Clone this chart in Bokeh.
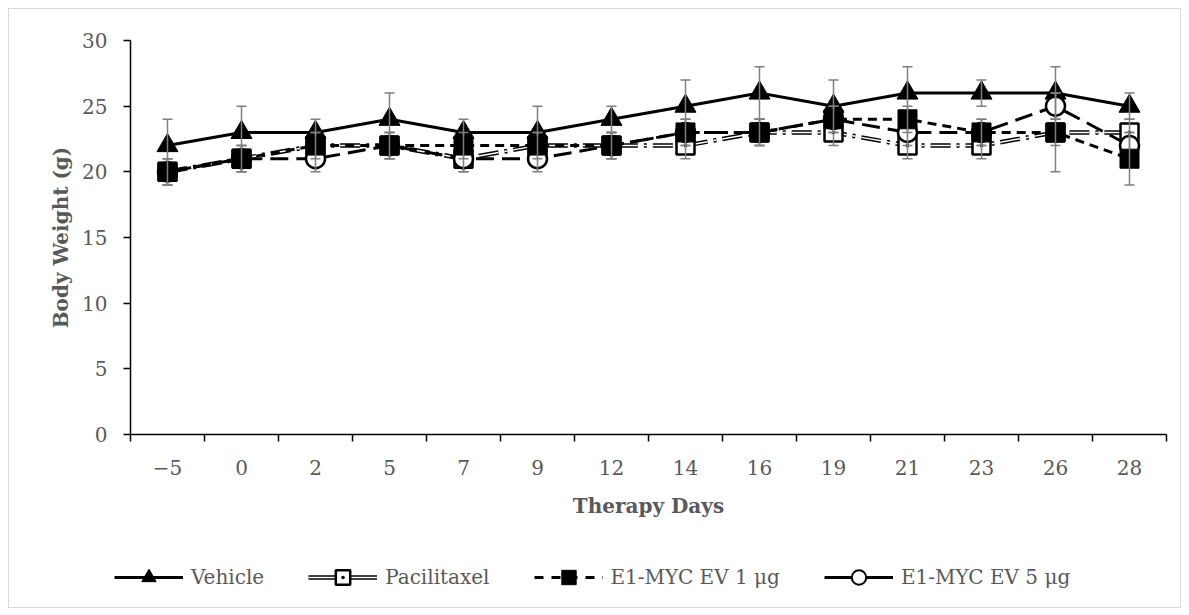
from bokeh.plotting import figure
from bokeh.models import Range1d, FixedTicker, Legend, LegendItem
from bokeh.layouts import column
from bokeh.core.properties import value
from bokeh.embed import file_html
from bokeh.resources import INLINE

# ---------------- data ----------------
days = ["\u22125", "0", "2", "5", "7", "9", "12", "14", "16", "19", "21", "23", "26", "28"]
vehicle = [22, 23, 23, 24, 23, 23, 24, 25, 26, 25, 26, 26, 26, 25]
vehicle_err = [2, 2, 1, 2, 1, 2, 1, 2, 2, 2, 2, 1, 2, 1]
paclitaxel = [20, 21, 22, 22, 21, 22, 22, 22, 23, 23, 22, 22, 23, 23]
paclitaxel_err = [1, 1, 1, 1, 1, 1, 1, 1, 1, 1, 1, 1, 1, 1]
ev1 = [20, 21, 22, 22, 22, 22, 22, 23, 23, 24, 24, 23, 23, 21]
ev1_err = [1, 1, 1, 1, 1, 1, 1, 1, 1, 1, 1, 1, 3, 2]
ev5 = [20, 21, 21, 22, 21, 21, 22, 23, 23, 24, 23, 23, 25, 22]
ev5_err = [1, 1, 1, 1, 1, 1, 1, 1, 1, 1, 1, 1, 1, 1]
y_ticks = [0, 5, 10, 15, 20, 25, 30]
labels = ["Vehicle", "Pacilitaxel", "E1-MYC EV 1 \u03bcg", "E1-MYC EV 5 \u03bcg"]

FONT = "DejaVu Serif"
FS = "20px"
TXT = "#595959"
GREY = "#7f7f7f"

n = len(days)
xs = [i + 0.5 for i in range(n)]
NAN = [float("nan")]

p = figure(width=1171, height=530, output_backend="svg", toolbar_location=None,
           x_range=Range1d(0, n), y_range=Range1d(0, 30),
           min_border_left=121, min_border_right=14, min_border_top=31,
           min_border_bottom=105)
p.grid.visible = False
p.outline_line_color = None
p.background_fill_color = "white"
p.border_fill_color = "white"

# axes
xa = p.xaxis[0]
xa.ticker = FixedTicker(ticks=xs, minor_ticks=list(range(n + 1)))
xa.major_label_overrides = {x: d for x, d in zip(xs, days)}
xa.major_tick_out = 0
xa.major_tick_in = 0
xa.minor_tick_out = 7
xa.minor_tick_in = 0
xa.minor_tick_line_color = "black"
xa.minor_tick_line_width = 1.5
xa.axis_line_color = "black"
xa.axis_line_width = 1.5
xa.major_label_standoff = 18
xa.axis_label = "Therapy Days"
xa.axis_label_standoff = 16

ya = p.yaxis[0]
ya.ticker = FixedTicker(ticks=y_ticks, minor_ticks=[])
ya.major_tick_out = 7
ya.major_tick_in = 0
ya.major_tick_line_color = "black"
ya.major_tick_line_width = 1.5
ya.axis_line_color = "black"
ya.axis_line_width = 1.5
ya.major_label_standoff = 16
ya.axis_label = "Body Weight (g)"
ya.axis_label_standoff = 6

for ax in (xa, ya):
    ax.major_label_text_font = FONT
    ax.major_label_text_font_size = FS
    ax.major_label_text_color = TXT
    ax.axis_label_text_font = FONT
    ax.axis_label_text_font_size = FS
    ax.axis_label_text_font_style = "bold"
    ax.axis_label_text_color = TXT


def errbars(vals, errs):
    lo = [v - e for v, e in zip(vals, errs)]
    hi = [v + e for v, e in zip(vals, errs)]
    p.segment(x0=xs, y0=lo, x1=xs, y1=hi, line_color=GREY, line_width=1.5)
    p.scatter(xs, lo, marker="dash", size=10, line_color=GREY, line_width=1.5)
    p.scatter(xs, hi, marker="dash", size=10, line_color=GREY, line_width=1.5)


# Vehicle
p.line(xs, vehicle, line_color="black", line_width=3)
p.scatter(xs, vehicle, marker="triangle", size=21, fill_color="black", line_color="black")
errbars(vehicle, vehicle_err)

# Paclitaxel (double line, dash-dot)
p.line(xs, paclitaxel, line_color="black", line_width=4.5, line_dash="20 6 3 6")
p.line(xs, paclitaxel, line_color="white", line_width=1.5, line_dash="20 6 3 6")
p.scatter(xs, paclitaxel, marker="square", size=18, fill_color="white", line_color="black", line_width=2.5)
p.scatter(xs, paclitaxel, marker="circle", size=3, fill_color="black", line_color="black")
errbars(paclitaxel, paclitaxel_err)

# E1-MYC EV 5 ug
p.line(xs, ev5, line_color="black", line_width=3, line_dash="18 8")
p.scatter(xs, ev5, marker="circle", size=19, fill_color="white", line_color="black", line_width=2.5)
errbars(ev5, ev5_err)

# E1-MYC EV 1 ug
p.line(xs, ev1, line_color="black", line_width=3, line_dash="9 6")
p.scatter(xs, ev1, marker="square", size=19, fill_color="black", line_color="black", line_width=1)
errbars(ev1, ev1_err)

# ---------------- legend strip ----------------
q = figure(width=1171, height=68, output_backend="svg", toolbar_location=None,
           x_range=Range1d(0, 1), y_range=Range1d(0, 1),
           x_axis_location=None, y_axis_location=None, min_border=0,
           min_border_left=0, min_border_right=0, min_border_top=0, min_border_bottom=0)
q.frame_align = False
q.grid.visible = False
q.outline_line_color = None
q.background_fill_color = "white"
q.border_fill_color = "white"

lv1 = q.line(NAN, NAN, line_color="black", line_width=3)
lv2 = q.scatter(NAN, NAN, marker="triangle", fill_color="black", line_color="black")
lp1 = q.line(NAN, NAN, line_color="black", line_width=4.5)
lp2 = q.line(NAN, NAN, line_color="white", line_width=1.5)
lp3 = q.scatter(NAN, NAN, marker="square", fill_color="white", line_color="black", line_width=2.5)
lp4 = q.scatter(NAN, NAN, marker="dot", line_color="black", line_width=2)
le1a = q.line(NAN, NAN, line_color="black", line_width=3, line_dash="9 8")
le1b = q.scatter(NAN, NAN, marker="square", fill_color="black", line_color="black")
le5a = q.line(NAN, NAN, line_color="black", line_width=3)
le5b = q.scatter(NAN, NAN, marker="circle", fill_color="white", line_color="black", line_width=2)

legend = Legend(items=[
    LegendItem(label=labels[0], renderers=[lv1, lv2]),
    LegendItem(label=labels[1], renderers=[lp1, lp2, lp3, lp4]),
    LegendItem(label=labels[2], renderers=[le1a, le1b]),
    LegendItem(label=labels[3], renderers=[le5a, le5b]),
], orientation="horizontal", location=(105, 12),
    glyph_width=69, glyph_height=36, label_standoff=8, spacing=44,
    padding=0, margin=0, border_line_color=None, background_fill_alpha=0)
try:
    legend.label_text_font = value(FONT)
except Exception:
    legend.label_text_font = FONT
legend.label_text_font_size = FS
legend.label_text_color = TXT
q.add_layout(legend)

layout = column(p, q, spacing=0,
                styles={"border": "1px solid #d9d9d9", "margin": "8px 0 0 8px"})
open("out.html", "w").write(file_html(layout, INLINE))
